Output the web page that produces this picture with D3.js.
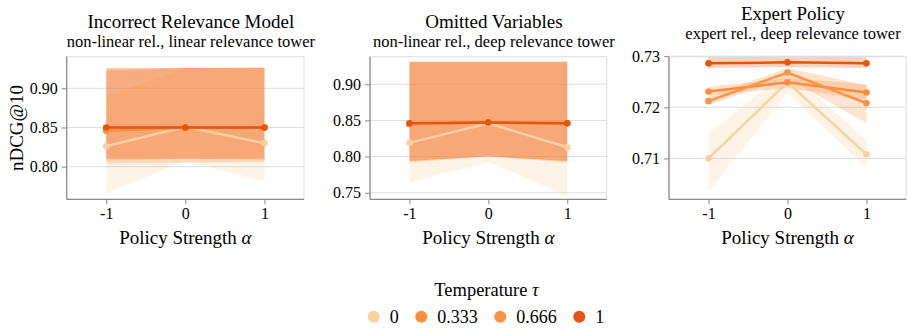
<!DOCTYPE html>
<html><head><meta charset="utf-8">
<script src="https://cdn.jsdelivr.net/npm/d3@7"></script>
<style>
body{margin:0;background:#fff}
svg{display:block}
svg text{font-family:"Liberation Serif","Times New Roman",Times,serif !important;fill:#000}
</style>
</head><body>
<svg id="chart" width="907" height="328"></svg>
<script>
// ---------------- DATA ----------------
const alphas = [-1, 0, 1];
const xTickLabels = ["-1", "0", "1"];
const temperatures = ["0", "0.333", "0.666", "1"];
const tempColors = ["#fdd0a2", "#fd8d3c", "#fd9446", "#e6550d"];

const panelTitles = ["Incorrect Relevance Model", "Omitted Variables", "Expert Policy"];
const panelSubtitles = ["non-linear rel., linear relevance tower", "non-linear rel., deep relevance tower", "expert rel., deep relevance tower"];

const yTicks = [[0.80, 0.85, 0.90], [0.75, 0.80, 0.85, 0.90], [0.71, 0.72, 0.73]];
const yDomains = [[0.7584, 0.9403], [0.741, 0.938], [0.7020, 0.7299]];

// Incorrect Relevance Model: rows = temperature 0, 0.333, 0.666, 1 ; cols = alpha -1, 0, 1
const irmMean = [[0.826, 0.851, 0.830], [0.846, 0.850, 0.850], [0.847, 0.850, 0.850], [0.850, 0.850, 0.850]];
const irmLow  = [[0.766, 0.808, 0.781], [0.804, 0.805, 0.806], [0.808, 0.810, 0.809], [0.810, 0.810, 0.810]];
const irmHigh = [[0.889, 0.926, 0.927], [0.922, 0.926, 0.926], [0.925, 0.926, 0.927], [0.926, 0.926, 0.926]];

// Omitted Variables
const ovMean = [[0.819, 0.846, 0.813], [0.845, 0.847, 0.846], [0.845, 0.847, 0.846], [0.846, 0.847, 0.846]];
const ovLow  = [[0.764, 0.793, 0.745], [0.792, 0.800, 0.792], [0.794, 0.801, 0.794], [0.794, 0.800, 0.794]];
const ovHigh = [[0.930, 0.930, 0.930], [0.931, 0.931, 0.931], [0.931, 0.931, 0.931], [0.931, 0.931, 0.931]];

// Expert Policy
const epMean = [[0.7100, 0.7249, 0.7108], [0.7231, 0.7249, 0.7229], [0.7212, 0.7268, 0.7208], [0.7286, 0.7288, 0.7286]];
const epLow  = [[0.7035, 0.7228, 0.7081], [0.7223, 0.7238, 0.7215], [0.7205, 0.7257, 0.7169], [0.7277, 0.7279, 0.7277]];
const epHigh = [[0.7149, 0.7272, 0.7136], [0.7240, 0.7257, 0.7245], [0.7221, 0.7277, 0.7243], [0.7298, 0.7298, 0.7298]];

const panelMeans = [irmMean, ovMean, epMean];
const panelLows = [irmLow, ovLow, epLow];
const panelHighs = [irmHigh, ovHigh, epHigh];

// ---------------- LAYOUT ----------------
const panelX = [[66.7, 304], [370, 606.7], [669, 906]];
const plotTop = 56.7, plotBottom = 199.3;
const titleY = [[27.5, 47], [27.5, 47], [20, 39]];
const serif = '"Liberation Serif","Times New Roman",Times,serif';

const svg = d3.select("#chart");

panelTitles.forEach((title, p) => {
  const x = d3.scaleLinear().domain([-1.5, 1.5]).range(panelX[p]);
  const y = d3.scaleLinear().domain(yDomains[p]).range([plotBottom, plotTop]);
  const g = svg.append("g");
  const cx = (panelX[p][0] + panelX[p][1]) / 2;

  // gridlines
  g.append("g").selectAll("line").data(yTicks[p]).join("line")
    .attr("x1", panelX[p][0]).attr("x2", panelX[p][1])
    .attr("y1", d => y(d)).attr("y2", d => y(d))
    .attr("stroke", "#dddddd").attr("stroke-width", 1);

  // frame (top/right light)
  g.append("rect").attr("x", panelX[p][0]).attr("y", plotTop)
    .attr("width", panelX[p][1] - panelX[p][0]).attr("height", plotBottom - plotTop)
    .attr("fill", "none").attr("stroke", "#dddddd");

  const area = d3.area().x((d, i) => x(alphas[i])).y0(d => y(d[0])).y1(d => y(d[1]));
  const line = d3.line().x((d, i) => x(alphas[i])).y(d => y(d));

  // bands
  temperatures.forEach((t, k) => {
    const pts = alphas.map((a, i) => [panelLows[p][k][i], panelHighs[p][k][i]]);
    g.append("path").attr("d", area(pts)).attr("fill", tempColors[k]).attr("fill-opacity", 0.26);
  });
  // lines + points
  temperatures.forEach((t, k) => {
    g.append("path").attr("d", line(panelMeans[p][k])).attr("fill", "none")
      .attr("stroke", tempColors[k]).attr("stroke-width", 2.5);
    g.append("g").selectAll("circle").data(panelMeans[p][k]).join("circle")
      .attr("cx", (d, i) => x(alphas[i])).attr("cy", d => y(d)).attr("r", 3.3)
      .attr("fill", tempColors[k]);
  });

  // axes
  const xAxis = d3.axisBottom(x).tickValues(alphas).tickSize(5).tickPadding(3)
    .tickFormat((d, i) => xTickLabels[i]);
  const xa = g.append("g").attr("transform", `translate(0,${plotBottom})`).call(xAxis);
  const yAxis = d3.axisLeft(y).tickValues(yTicks[p]).tickSize(5).tickPadding(4).tickFormat(d3.format(".2f"));
  const ya = g.append("g").attr("transform", `translate(${panelX[p][0]},0)`).call(yAxis);
  [xa, ya].forEach(a => {
    a.attr("font-family", serif).attr("font-size", 16);
    a.select(".domain").attr("stroke", "#888").attr("stroke-width", 1.2);
    a.selectAll(".tick line").attr("stroke", "#888");
    a.selectAll(".tick text").attr("font-size", 16).attr("fill", "#000")
      .style("font-family", serif);
  });
  xa.select(".domain").attr("d", `M${panelX[p][0]},0H${panelX[p][1]}`);
  ya.select(".domain").attr("d", `M0,${plotTop}V${plotBottom}`);

  // titles
  g.append("text").attr("x", cx + 5.5).attr("y", titleY[p][0]).attr("text-anchor", "middle")
    .attr("font-size", 19).text(title);
  g.append("text").attr("x", cx + 5.5).attr("y", titleY[p][1]).attr("text-anchor", "middle")
    .attr("font-size", 16.5).text(panelSubtitles[p]);

  // x title
  const xt = g.append("text").attr("x", cx).attr("y", 244).attr("text-anchor", "middle").attr("font-size", 19);
  xt.append("tspan").text("Policy Strength ");
  xt.append("tspan").attr("font-style", "italic").text("α");
});

// y title
svg.append("text").attr("transform", "translate(23,128) rotate(-90)")
  .attr("text-anchor", "middle").attr("font-size", 19).text("nDCG@10");

// legend
const lt = svg.append("text").attr("x", 486.5).attr("y", 296).attr("text-anchor", "middle").attr("font-size", 18.5);
lt.append("tspan").text("Temperature ");
lt.append("tspan").attr("font-style", "italic").text("τ");

const lg = svg.append("g");
let cur = 0;
temperatures.forEach((t, k) => {
  const it = lg.append("g").attr("transform", `translate(${cur},0)`);
  it.append("circle").attr("cx", 6).attr("cy", 316.7).attr("r", 6).attr("fill", tempColors[k]);
  const tx = it.append("text").attr("x", 22).attr("y", 322.5).attr("font-size", 18).text(t);
  const w = tx.node().getComputedTextLength();
  cur += 22 + w + (k < temperatures.length - 1 ? 16.5 : 0);
});
lg.attr("transform", `translate(${486 - cur / 2},0)`);
</script>
</body></html>
